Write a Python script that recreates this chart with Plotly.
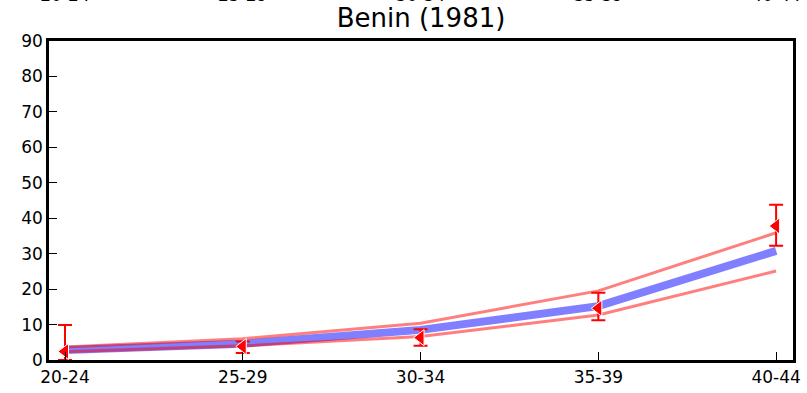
import plotly.graph_objects as go

categories = ["20-24", "25-29", "30-34", "35-39", "40-44"]
model_mid = [2.8, 4.6, 8.5, 15.2, 30.8]
model_upper = [3.7, 6.0, 10.4, 19.5, 35.9]
model_lower = [2.3, 4.0, 6.6, 12.7, 25.1]
observed = [2.4, 3.8, 6.3, 14.6, 37.8]
obs_err_plus = [7.5, 1.4, 2.4, 4.4, 6.0]
obs_err_minus = [2.4, 1.8, 2.3, 3.4, 5.6]
title_text = "Benin (1981)"
y_ticks = [0, 10, 20, 30, 40, 50, 60, 70, 80, 90]

FONT = "DejaVu Sans"

fig = go.Figure()
fig.add_trace(go.Scatter(x=categories, y=model_mid, mode="lines",
                         line=dict(color="rgba(0,0,255,0.5)", width=8),
                         showlegend=False))
fig.add_trace(go.Scatter(x=categories, y=model_upper, mode="lines",
                         line=dict(color="rgba(255,0,0,0.5)", width=3),
                         showlegend=False))
fig.add_trace(go.Scatter(x=categories, y=model_lower, mode="lines",
                         line=dict(color="rgba(255,0,0,0.5)", width=3),
                         showlegend=False))
fig.add_trace(go.Scatter(x=categories, y=observed, mode="markers",
                         marker=dict(symbol="triangle-left", color="red", size=14,
                                     line=dict(color="white", width=1)),
                         error_y=dict(type="data", symmetric=False, array=obs_err_plus,
                                      arrayminus=obs_err_minus, color="red",
                                      thickness=2, width=7),
                         showlegend=False))
fig.add_trace(go.Scatter(x=categories, y=[None] * len(categories), xaxis="x2",
                         mode="lines", showlegend=False, hoverinfo="skip"))

axis_common = dict(showline=True, linecolor="black", linewidth=2.5, mirror=True,
                   ticks="inside", ticklen=8, tickwidth=1, tickcolor="black",
                   showgrid=False, zeroline=False, automargin=False,
                   tickfont=dict(family=FONT, size=17, color="black"))

fig.update_layout(
    width=807, height=393,
    margin=dict(l=49, r=14, t=41, b=33),
    paper_bgcolor="white", plot_bgcolor="white",
    title=dict(text=title_text, xref="paper", x=0.5, xanchor="center",
               yref="container", y=0.955, yanchor="middle",
               font=dict(family=FONT, size=26, color="black"), automargin=False),
    xaxis=dict(type="category", categoryarray=categories, range=[-0.09, 4.095],
               **axis_common),
    xaxis2=dict(type="category", categoryarray=categories, range=[-0.09, 4.095],
                overlaying="x", side="top", anchor="y", showline=False, ticks="",
                showgrid=False, zeroline=False, ticklabelstandoff=36, automargin=False,
                tickfont=dict(family=FONT, size=17, color="black")),
    yaxis=dict(range=[0, 90], tickvals=y_ticks, **axis_common),
)

fig.write_html("out.html", config={"displayModeBar": False},
               post_script="document.body.style.margin='0px';document.body.style.overflow='hidden';")
